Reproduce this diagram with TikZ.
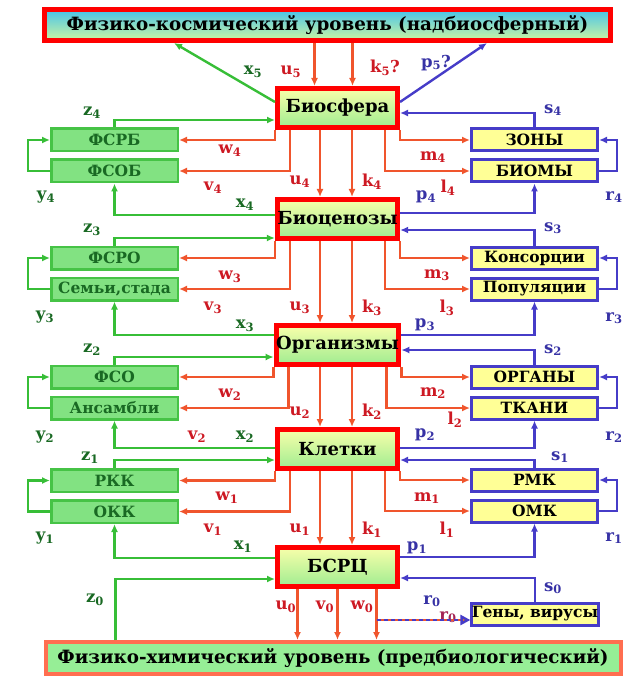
\documentclass[tikz,border=0pt]{standalone}
\usepackage{fontspec}
\setmainfont{DejaVu Serif}
\usepackage{xcolor}
\usetikzlibrary{arrows.meta,positioning}

\definecolor{redline}{RGB}{240,85,45}
\definecolor{redtext}{RGB}{205,25,35}
\definecolor{greenline}{RGB}{55,190,55}
\definecolor{greentext}{RGB}{25,105,35}
\definecolor{blueline}{RGB}{70,60,200}
\definecolor{bluetext}{RGB}{55,50,165}
\definecolor{lfill}{RGB}{130,226,130}
\definecolor{lline}{RGB}{70,195,70}
\definecolor{rfill}{RGB}{255,255,150}
\definecolor{ctop}{RGB}{248,255,170}
\definecolor{cbot}{RGB}{160,236,145}
\definecolor{ktop}{RGB}{70,195,235}
\definecolor{kbot}{RGB}{205,245,160}
\definecolor{chfill}{RGB}{150,238,150}
\definecolor{chline}{RGB}{255,110,80}

\begin{document}
\begin{tikzpicture}[x=1pt, y=-1pt,
  cen/.style={draw=red, line width=5pt, top color=ctop, bottom color=cbot, minimum width=120pt, minimum height=39pt, inner sep=0pt, font=\bfseries\fontsize{18}{20}\selectfont},
  lbox/.style={draw=lline, line width=2.5pt, fill=lfill, minimum width=126.5pt, minimum height=22.5pt, inner sep=0pt, text=greentext, font=\bfseries\fontsize{15.5}{16}\selectfont},
  rbox/.style={draw=blueline, line width=3pt, fill=rfill, minimum width=126pt, minimum height=22pt, inner sep=0pt, font=\bfseries\fontsize{15.5}{16}\selectfont},
  lvl/.style={line width=5pt, minimum height=31pt, inner sep=0pt, font=\bfseries\fontsize{18.3}{20}\selectfont},
  rarr/.style={draw=redline, line width=2.4pt, -{Latex[length=8pt,width=7pt]}},
  garr/.style={draw=greenline, line width=2.4pt, -{Latex[length=8pt,width=7pt]}},
  barr/.style={draw=blueline, line width=2.4pt, -{Latex[length=8pt,width=7pt]}},
  rlab/.style={text=redtext, font=\bfseries\fontsize{16.5}{17}\selectfont},
  glab/.style={text=greentext, font=\bfseries\fontsize{16.5}{17}\selectfont},
  blab/.style={text=bluetext, font=\bfseries\fontsize{16.5}{17}\selectfont}
]
\useasboundingbox (0,0) rectangle (625,676);

% levels
\node[lvl, draw=red, top color=ktop, bottom color=kbot, minimum width=566pt] (kosm) at (327.5,25) {Физико-космический уровень (надбиосферный)};
\node[lvl, draw=chline, line width=4pt, fill=chfill, minimum width=575pt, minimum height=32pt] (chem) at (333,658) {Физико-химический уровень (предбиологический)};

% central column
\node[cen] (bio) at (337.5,108) {Биосфера};
\node[cen] (bcz) at (337.5,219) {Биоценозы};
\node[cen] (org) at (337.5,345) {Организмы};
\node[cen] (klt) at (337.5,449) {Клетки};
\node[cen] (bsrc) at (337.5,567) {БСРЦ};

% side boxes
\node[lbox] (fsrb) at (114.5,140) {ФСРБ};
\node[lbox, below=6pt of fsrb] (fsob) {ФСОБ};
\node[rbox] (zony) at (534.5,140) {ЗОНЫ};
\node[rbox, below=6pt of zony] (biomy) {БИОМЫ};
\node[lbox] (fsro) at (114.5,258) {ФСРО};
\node[lbox, below=6pt of fsro] (semi) {Семьи,стада};
\node[rbox] (kons) at (534.5,258) {Консорции};
\node[rbox, below=6pt of kons] (popul) {Популяции};
\node[lbox] (fso) at (114.5,377) {ФСО};
\node[lbox, below=6pt of fso] (ansam) {Ансамбли};
\node[rbox] (organy) at (534.5,377) {ОРГАНЫ};
\node[rbox, below=6pt of organy] (tkani) {ТКАНИ};
\node[lbox] (rkk) at (114.5,480.5) {РКК};
\node[lbox, below=6pt of rkk] (okk) {ОКК};
\node[rbox] (rmk) at (534.5,480) {РМК};
\node[rbox, below=6pt of rmk] (omk) {ОМК};
\node[rbox] (geny) at (535,614) {Гены, вирусы};

% top
\draw[garr] ([yshift=6pt]bio.west) -- ([xshift=132pt]kosm.south west);
\draw[rarr] ([xshift=-23pt]bio.north |- kosm.south) -- ([xshift=-23pt]bio.north);
\draw[rarr] ([xshift=15pt]bio.north |- kosm.south) -- ([xshift=15pt]bio.north);
\draw[barr] ([yshift=6pt]bio.east) -- ([xshift=-126pt]kosm.south east);
\node[glab] (lx5) at (253,72) {x\textsubscript{5}};
\node[rlab] (lu5) at (291,72) {u\textsubscript{5}};
\node[rlab] (lk5) at (385,68) {k\textsubscript{5}?};
\node[blab] (lp5) at (436,63) {p\textsubscript{5}?};

% level 4
\draw[garr] (fsrb.north) |- ([yshift=-12pt]bio.west);
\draw[rarr] (bio.south west) |- (fsrb.east); \draw[rarr] ([xshift=15pt]bio.south west) |- (fsob.east);
\draw[rarr] ([xshift=-17.5pt]bio.south) -- ([xshift=-17.5pt]bcz.north); \draw[rarr] ([xshift=14.5pt]bio.south) -- ([xshift=14.5pt]bcz.north);
\draw[rarr] ([xshift=-15pt]bio.south east) |- (biomy.west); \draw[rarr] (bio.south east) |- (zony.west);
\draw[barr] (zony.north) |- ([yshift=-5pt]bio.east); \draw[barr] (biomy.east) -- ++(18,0) |- (zony.east);
\draw[garr] (fsob.west) -- ++(-22,0) |- (fsrb.west);
\draw[garr] ([yshift=4pt]bcz.west) -| (fsob.south); \draw[barr] ([yshift=6pt]bcz.east) -| (biomy.south);
\node[glab] (lz4) at (92,113) {z\textsubscript{4}};
\node[glab] (ly4) at (46,197) {y\textsubscript{4}};
\node[glab] (lx4) at (245,205) {x\textsubscript{4}};
\node[rlab] (lw4) at (230,151) {w\textsubscript{4}};
\node[rlab] (lv4) at (213,188) {v\textsubscript{4}};
\node[rlab] (lu4) at (300,182) {u\textsubscript{4}};
\node[rlab] (lk4) at (372,182) {k\textsubscript{4}};
\node[rlab] (lm4) at (433,157) {m\textsubscript{4}};
\node[rlab] (ll4) at (448,188) {l\textsubscript{4}};
\node[blab] (lp4) at (426,197) {p\textsubscript{4}};
\node[blab] (ls4) at (553,110) {s\textsubscript{4}};
\node[blab] (lr4) at (614,197) {r\textsubscript{4}};

% level 3
\draw[garr] (fsro.north) |- ([yshift=-19pt]bcz.west);
\draw[rarr] (bcz.south west) |- (fsro.east); \draw[rarr] ([xshift=15pt]bcz.south west) |- (semi.east);
\draw[rarr] ([xshift=-17.5pt]bcz.south) -- ([xshift=-17.5pt]org.north); \draw[rarr] ([xshift=14.5pt]bcz.south) -- ([xshift=14.5pt]org.north);
\draw[rarr] ([xshift=-15pt]bcz.south east) |- (popul.west); \draw[rarr] (bcz.south east) |- (kons.west);
\draw[barr] (kons.north) |- ([yshift=-11pt]bcz.east); \draw[barr] (popul.east) -- ++(18,0) |- (kons.east);
\draw[garr] (semi.west) -- ++(-22,0) |- (fsro.west);
\draw[garr] ([yshift=10pt]org.west) -| (semi.south); \draw[barr] ([yshift=10pt]org.east) -| (popul.south);
\node[glab] (lz3) at (92,230) {z\textsubscript{3}};
\node[glab] (ly3) at (45,317) {y\textsubscript{3}};
\node[glab] (lx3) at (245,326) {x\textsubscript{3}};
\node[rlab] (lw3) at (230,277) {w\textsubscript{3}};
\node[rlab] (lv3) at (213,308) {v\textsubscript{3}};
\node[rlab] (lu3) at (300,308) {u\textsubscript{3}};
\node[rlab] (lk3) at (372,308) {k\textsubscript{3}};
\node[rlab] (lm3) at (437,275) {m\textsubscript{3}};
\node[rlab] (ll3) at (447,308) {l\textsubscript{3}};
\node[blab] (lp3) at (425,325) {p\textsubscript{3}};
\node[blab] (ls3) at (553,228) {s\textsubscript{3}};
\node[blab] (lr3) at (614,318) {r\textsubscript{3}};

% level 2
\draw[garr] (fso.north) |- ([yshift=-12pt]org.west);
\draw[rarr] (org.south west) |- (fso.east); \draw[rarr] ([xshift=15pt]org.south west) |- (ansam.east);
\draw[rarr] ([xshift=-17.5pt]org.south) -- ([xshift=-17.5pt]klt.north); \draw[rarr] ([xshift=14.5pt]org.south) -- ([xshift=14.5pt]klt.north);
\draw[rarr] ([xshift=-15pt]org.south east) |- (tkani.west); \draw[rarr] (org.south east) |- (organy.west);
\draw[barr] (organy.north) |- ([yshift=-5pt]org.east); \draw[barr] (tkani.east) -- ++(18,0) |- (organy.east);
\draw[garr] (ansam.west) -- ++(-22,0) |- (fso.west);
\draw[garr] ([yshift=1pt]klt.west) -| (ansam.south); \draw[barr] ([yshift=1pt]klt.east) -| (tkani.south);
\node[glab] (lz2) at (92,350) {z\textsubscript{2}};
\node[glab] (ly2) at (45,437) {y\textsubscript{2}};
\node[glab] (lx2) at (245,437) {x\textsubscript{2}};
\node[rlab] (lw2) at (230,395) {w\textsubscript{2}};
\node[rlab] (lv2) at (197,437) {v\textsubscript{2}};
\node[rlab] (lu2) at (300,413) {u\textsubscript{2}};
\node[rlab] (lk2) at (372,412) {k\textsubscript{2}};
\node[rlab] (lm2) at (433,393) {m\textsubscript{2}};
\node[rlab] (ll2) at (455,420) {l\textsubscript{2}};
\node[blab] (lp2) at (425,435) {p\textsubscript{2}};
\node[blab] (ls2) at (553,350) {s\textsubscript{2}};
\node[blab] (lr2) at (614,437) {r\textsubscript{2}};

% level 1
\draw[garr] (rkk.north) |- ([yshift=-11pt]klt.west);
\draw[rarr] (klt.south west) |- (rkk.east); \draw[rarr] ([xshift=15pt]klt.south west) |- (okk.east);
\draw[rarr] ([xshift=-17.5pt]klt.south) -- ([xshift=-17.5pt]bsrc.north); \draw[rarr] ([xshift=14.5pt]klt.south) -- ([xshift=14.5pt]bsrc.north);
\draw[rarr] ([xshift=-15pt]klt.south east) |- (omk.west); \draw[rarr] (klt.south east) |- (rmk.west);
\draw[barr] (rmk.north) |- ([yshift=-11pt]klt.east); \draw[barr] (omk.east) -- ++(18,0) |- (rmk.east);
\draw[garr] (okk.west) -- ++(-22,0) |- (rkk.west);
\draw[garr] ([yshift=9pt]bsrc.west) -| (okk.south); \draw[barr] ([yshift=10pt]bsrc.east) -| (omk.south);
\node[glab] (lz1) at (90,458) {z\textsubscript{1}};
\node[glab] (ly1) at (45,538) {y\textsubscript{1}};
\node[glab] (lx1) at (243,547) {x\textsubscript{1}};
\node[rlab] (lw1) at (227,498) {w\textsubscript{1}};
\node[rlab] (lv1) at (213,530) {v\textsubscript{1}};
\node[rlab] (lu1) at (300,530) {u\textsubscript{1}};
\node[rlab] (lk1) at (372,530) {k\textsubscript{1}};
\node[rlab] (lm1) at (427,498) {m\textsubscript{1}};
\node[rlab] (ll1) at (447,530) {l\textsubscript{1}};
\node[blab] (lp1) at (417,548) {p\textsubscript{1}};
\node[blab] (ls1) at (560,457) {s\textsubscript{1}};
\node[blab] (lr1) at (614,538) {r\textsubscript{1}};

% level 0
\draw[garr] ([xshift=72pt]chem.north west) |- ([yshift=-12pt]bsrc.west);
\draw[rarr] ([xshift=-40pt]bsrc.south) -- ([xshift=-40pt]bsrc.south |- chem.north);
\draw[rarr] (bsrc.south) -- (bsrc.south |- chem.north);
\draw[rarr] ([xshift=39pt]bsrc.south) -- ([xshift=39pt]bsrc.south |- chem.north);
\draw[barr] (geny.north) |- ([yshift=-11pt]bsrc.east);
\node[glab] (lz0) at (95,600) {z\textsubscript{0}};
\node[rlab] (lu0) at (286,607) {u\textsubscript{0}};
\node[rlab] (lv0) at (325,607) {v\textsubscript{0}};
\node[rlab] (lw0) at (362,607) {w\textsubscript{0}};
\node[blab] (lr0) at (432,601) {r\textsubscript{0}};
\node[blab] (ls0) at (553,588) {s\textsubscript{0}};
\node[rlab, text=redtext!70!blueline] (lr0b) at (448,617) {r\textsubscript{0}};
\coordinate (rnul) at (376.5,620);
\draw[draw=redline, line width=2.5pt, shorten >=8pt] (rnul) -- ([yshift=-6pt]geny.west);
\draw[draw=blueline, line width=2.5pt, dash pattern=on 4pt off 3pt, -{Triangle[length=10pt,width=10pt,fill=orange]}] (rnul) -- ([yshift=-6pt]geny.west);
\end{tikzpicture}
\end{document}
